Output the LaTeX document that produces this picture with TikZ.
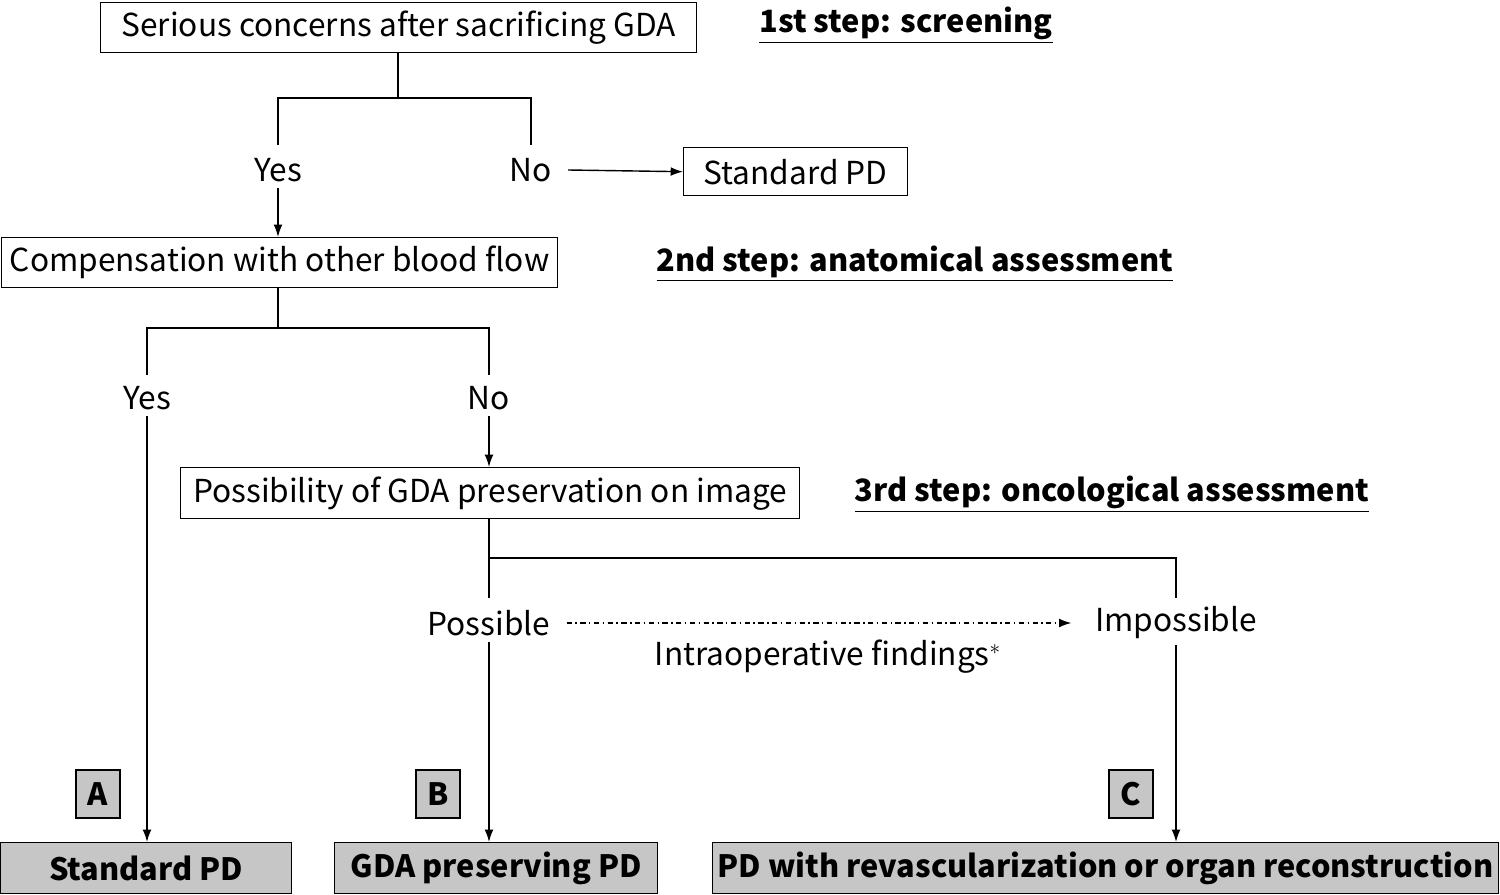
\documentclass[tikz,border=0pt]{standalone}
\usepackage{fontspec}
\setmainfont{Noto Sans CJK JP}
\usetikzlibrary{arrows.meta}
\begin{document}
\begin{tikzpicture}[x=0.02cm,y=-0.02cm,
  every node/.style={font=\fontsize{18}{21}\selectfont},
  box/.style={draw,line width=0.8pt,minimum height=1cm,inner sep=0pt,anchor=north west},
  gbox/.style={box,fill=gray!45,font=\fontsize{17.5}{21}\selectfont\bfseries},
  lbl/.style={draw,line width=0.8pt,fill=gray!45,minimum width=0.88cm,minimum height=0.96cm,inner sep=0pt,font=\fontsize{17.5}{21}\selectfont\bfseries},
  stp/.style={font=\fontsize{17.5}{21}\selectfont\bfseries},
  ln/.style={line width=0.8pt},
  arr/.style={ln,-{Latex[length=7pt,width=5pt]}}]
\useasboundingbox (0,0) rectangle (1500,895);
% boxes
\node[box,minimum width=11.92cm] (b1) at (100,2) {Serious concerns after sacrificing GDA};
\node[stp] (s1) at (906,25) {\underline{1st step: screening}};
\node[box,minimum width=4.48cm,minimum height=0.96cm] (sp) at (683,147) {Standard PD};
\node[box,minimum width=11.12cm] (b2) at (1,237) {Compensation with other blood flow};
\node[stp] (s2) at (915,264) {\underline{2nd step: anatomical assessment}};
\node[box,minimum width=12.38cm,minimum height=1.02cm] (b3) at (180,467) {Possibility of GDA preservation on image};
\node[stp] (s3) at (1112,494) {\underline{3rd step: oncological assessment}};
% labels
\node (y1) at (278,170) {Yes};
\node (n1) at (531,170) {No};
\node (y2) at (147,398) {Yes};
\node (n2) at (489,398) {No};
\node (po) at (489,623) {Possible};
\node (im) at (1176,623) {Impossible};
\node (inf) at (828,657) {Intraoperative findings$^{*}$};
% final
\node[gbox,minimum width=5.82cm,minimum height=1.02cm] (fa) at (0,842) {Standard PD};
\node[gbox,minimum width=6.46cm,minimum height=1.02cm] (fb) at (334,842) {GDA preserving PD};
\node[gbox,minimum width=15.72cm,minimum height=1.02cm] (fc) at (712,842) {PD with revascularization or organ reconstruction};
\node[lbl] (la) at (98,794) {A};
\node[lbl] (lb) at (438,794) {B};
\node[lbl] (lc) at (1131,794) {C};
% connectors
\coordinate (j1) at (398,98);
\draw[ln] (b1.south -| j1) -- (j1);
\draw[ln] (278,145) -- (278,98) -- (531,98) -- (531,145);
\draw[arr] (n1.east) ++(10,0) -- (sp.west);
\draw[arr] (y1.south) -- (b2.north -| y1);
\coordinate (j2) at (278,328);
\draw[ln] (b2.south -| j2) -- (j2);
\draw[ln] (147,375) -- (147,328) -- (489,328) -- (489,375);
\draw[arr] (n2.south) -- (b3.north -| n2);
\draw[ln] (b3.south -| po) -- (489,598);
\draw[ln] (489,558) -- (1176,558) -- (1176,598);
\draw[arr,dash dot] (po.east) ++(10,0) -- ([xshift=-10pt]im.west);
\draw[arr] (y2.south) -- (fa.north -| y2);
\draw[arr] (po.south) -- (fb.north -| po);
\draw[arr] (im.south) -- (fc.north -| im);
\end{tikzpicture}
\end{document}
